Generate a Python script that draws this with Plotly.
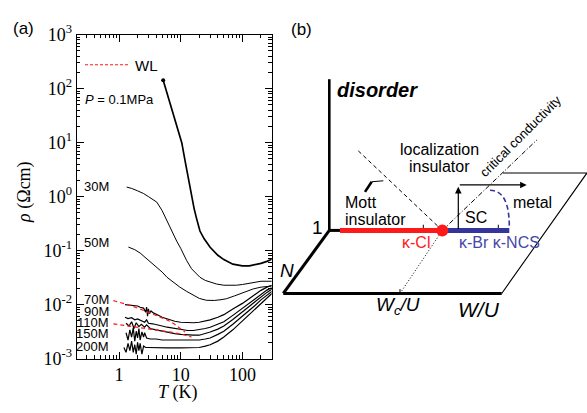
import numpy as np
import plotly.graph_objects as go

W, H = 587, 413

# ---------------- Panel (a) data : resistivity vs temperature ----------------
T_01 = [5.2, 6.0, 7.0, 8.5, 10.4, 12.0, 13.5, 15.0, 16.5, 18.0, 20.5, 24, 30, 40, 50, 70, 100, 130, 170, 200, 250, 300]
R_01 = [144, 83, 46, 22, 10, 4.1, 1.95, 1.0, 0.6, 0.4, 0.23, 0.165, 0.115, 0.082, 0.068, 0.056, 0.052, 0.052, 0.055, 0.058, 0.063, 0.069]

T_30 = [1.33, 1.6, 2.0, 2.5, 3.0, 3.5, 4.1, 5.0, 5.9, 7.0, 8.6, 10, 12.5, 15, 18, 20.5, 25, 30, 38, 50, 62, 80, 100, 130, 160, 200, 250, 300]
R_30 = [1.5, 1.42, 1.28, 1.14, 1.0, 0.9, 0.79, 0.55, 0.37, 0.24, 0.15, 0.11, 0.065, 0.046, 0.037, 0.032, 0.028, 0.026, 0.024, 0.0228, 0.0225, 0.0228, 0.0235, 0.025, 0.026, 0.027, 0.027, 0.027]

T_50 = [1.42, 1.8, 2.2, 2.7, 3.2, 4.0, 5.0, 6.0, 7.5, 9.7, 12.5, 16, 20, 26, 35, 45, 55, 75, 103, 150, 200, 300]
R_50 = [0.116, 0.104, 0.090, 0.074, 0.063, 0.050, 0.040, 0.032, 0.026, 0.021, 0.0175, 0.0148, 0.013, 0.0120, 0.0119, 0.0123, 0.0128, 0.0145, 0.0168, 0.0195, 0.021, 0.022]

T_70 = [1.25, 1.4, 1.6, 1.8, 2.0, 2.2, 2.5, 2.7, 2.8, 2.9, 3.0, 3.1, 3.3, 3.6, 4.0, 4.5, 5.0, 6.0, 7.0, 8.0, 10, 13, 16, 20, 25, 30, 40, 50, 70, 100, 130, 160, 200, 250, 300]
R_70 = [0.0100, 0.0098, 0.0097, 0.0093, 0.0094, 0.0089, 0.0086, 0.0072, 0.0090, 0.0061, 0.0083, 0.0068, 0.0076, 0.0070, 0.0067, 0.0062, 0.0058, 0.0054, 0.0051, 0.0049, 0.0047, 0.0046, 0.0046, 0.0047, 0.0049, 0.0052, 0.0058, 0.0065, 0.0083, 0.0105, 0.0130, 0.0155, 0.0183, 0.0210, 0.0228]

T_90 = [1.25, 1.4, 1.6, 1.8, 2.0, 2.3, 2.6, 2.8, 3.0, 3.5, 4.0, 5.0, 6.0, 8.0, 10, 13, 16, 20, 25, 30, 40, 50, 70, 100, 130, 160, 200, 250, 300]
R_90 = [0.0058, 0.0055, 0.0057, 0.0052, 0.0054, 0.0050, 0.0047, 0.0052, 0.0045, 0.0044, 0.0042, 0.0040, 0.0038, 0.0036, 0.0034, 0.0033, 0.0033, 0.0034, 0.0036, 0.0038, 0.0043, 0.0048, 0.0063, 0.0085, 0.0108, 0.0130, 0.0158, 0.0185, 0.0205]

T_110 = [1.3, 1.45, 1.6, 1.75, 1.9, 2.1, 2.3, 2.6, 2.8, 3.2, 4.0, 5.0, 6.5, 8.0, 10, 13, 16, 20, 25, 30, 40, 50, 70, 100, 130, 160, 200, 250, 300]
R_110 = [0.0045, 0.0040, 0.0048, 0.0036, 0.0046, 0.0039, 0.0043, 0.0038, 0.0042, 0.0036, 0.0034, 0.0032, 0.0030, 0.0029, 0.0028, 0.0027, 0.0027, 0.0027, 0.0029, 0.0031, 0.0035, 0.0040, 0.0053, 0.0072, 0.0093, 0.0113, 0.0140, 0.0168, 0.0192]

T_150 = [1.3, 1.4, 1.5, 1.6, 1.7, 1.8, 1.9, 2.0, 2.1, 2.2, 2.35, 2.5, 2.6, 2.8, 3.2, 4.0, 5.0, 7.0, 10, 14, 20, 25, 30, 40, 50, 70, 100, 130, 160, 200, 250, 300]
R_150 = [0.0030, 0.0022, 0.0034, 0.0025, 0.0037, 0.0021, 0.0032, 0.0024, 0.0036, 0.0022, 0.0031, 0.0025, 0.0030, 0.0024, 0.0023, 0.0023, 0.0022, 0.0022, 0.0022, 0.0022, 0.0022, 0.0023, 0.0024, 0.0028, 0.0032, 0.0043, 0.0060, 0.0078, 0.0096, 0.0122, 0.0150, 0.0175]

T_200 = [1.2, 1.3, 1.4, 1.5, 1.6, 1.7, 1.8, 1.9, 2.0, 2.1, 2.2, 2.35, 2.5, 2.7, 3.0, 4.0, 6.0, 10, 15, 20, 25, 30, 40, 50, 70, 100, 130, 160, 200, 250, 300]
R_200 = [0.0016, 0.0013, 0.0019, 0.0014, 0.0021, 0.0013, 0.0018, 0.0012, 0.0020, 0.0014, 0.0019, 0.0012, 0.0017, 0.0016, 0.0016, 0.00158, 0.00158, 0.00158, 0.0016, 0.0016, 0.0017, 0.0018, 0.0021, 0.0025, 0.0034, 0.0050, 0.0066, 0.0083, 0.0107, 0.0135, 0.0160]

# weak-localization fits (red dashed)
T_WL70 = [0.81, 1.5, 2.5, 4.0, 6.0, 8.0, 10.0, 11.7]
R_WL70 = [0.0118, 0.0097, 0.0078, 0.0063, 0.0052, 0.0043, 0.0036, 0.0031]
T_WL110 = [0.81, 2.0, 4.0, 8.0, 12.0, 15.0]
R_WL110 = [0.0044, 0.0038, 0.0034, 0.0030, 0.0027, 0.0025]

curve_labels = ["30M", "50M", "70M", "90M", "110M", "150M", "200M"]
label_rho = [1.56, 0.142, 0.0122, 0.0073, 0.0046, 0.00286, 0.00167]

y_tickvals = [1e-3, 1e-2, 1e-1, 1e0, 1e1, 1e2, 1e3]
y_ticktext = ["10<sup>-3</sup>", "10<sup>-2</sup>", "10<sup>-1</sup>", "10<sup>0</sup>",
              "10<sup>1</sup>", "10<sup>2</sup>", "10<sup>3</sup>"]
x_tickvals = [1, 10, 100]
x_ticktext = ["1", "10", "100"]

# ---------------- Panel (b) schematic geometry (diagram units) ----------------
disorder_axis = ([0, 0], [0, 159.7])
n_axis = ([0, -46], [0, -66.6])
base_edge = ([-46, 172.4], [-66.6, -66.6])
plane_edge = ([173.7, 257.7, 172.4], [60.7, 60.7, -66.6])
corner_stub = ([0, 10.7], [0, 0])
mott_line = ([10.7, 113], [0, 0])
metal_line = ([113, 180], [0, 0])
critical_pt = ([113], [0])
crit_upper = ([113, 207.7], [0, 95.7])
crit_lower = ([70.7, 113], [-66.6, 0])
loc_line = ([29, 113], [84, 0])
pointer_thick = ([35.7, 42.4], [40.7, 51.4])
pointer_thin = ([42.4, 54], [51.4, 52.4])
ticks_b = [([94, 94], [0, 6]), ([169, 169], [0, 6]), ([70.7, 70.7], [-66.6, -62])]

RED = "#ff1a1a"
BLUE = "#34349a"
BLUE_T = "#4646a8"

fig = go.Figure()

def add_curve(T, R, width=1.0):
    fig.add_trace(go.Scatter(x=T, y=R, mode="lines", line=dict(color="black", width=width),
                             showlegend=False, hoverinfo="skip", xaxis="x", yaxis="y"))

add_curve(T_01, R_01, 1.7)
fig.add_trace(go.Scatter(x=T_01[:1], y=R_01[:1], mode="markers", marker=dict(color="black", size=4),
                         showlegend=False, xaxis="x", yaxis="y"))
for T, R in [(T_30, R_30), (T_50, R_50)]:
    add_curve(T, R, 1.0)
for T, R in [(T_70, R_70), (T_90, R_90), (T_110, R_110), (T_150, R_150), (T_200, R_200)]:
    add_curve(T, R, 1.2)
for T, R in [(T_WL70, R_WL70), (T_WL110, R_WL110)]:
    fig.add_trace(go.Scatter(x=T, y=R, mode="lines", line=dict(color=RED, width=1.2, dash="4px,3px"),
                             showlegend=False, xaxis="x", yaxis="y"))

# ---------------- Panel (b) traces ----------------
def seg(xy, color="black", width=1.0, dash="solid"):
    fig.add_trace(go.Scatter(x=xy[0], y=xy[1], mode="lines", line=dict(color=color, width=width, dash=dash),
                             showlegend=False, hoverinfo="skip", xaxis="x2", yaxis="y2"))

seg(disorder_axis, width=2.6)
seg(n_axis, width=3)
seg(base_edge, width=3)
seg(plane_edge, width=1.1)
seg(corner_stub, width=3)
seg(loc_line, width=1, dash="4px,3px")
seg(crit_upper, width=1, dash="5px,2px,1px,2px")
seg(crit_lower, width=1, dash="1px,2px")
seg(pointer_thick, width=2.6)
seg(pointer_thin, width=1)
for t in ticks_b:
    seg(t, width=1)
seg(mott_line, color=RED, width=5)
seg(metal_line, color=BLUE, width=5)
fig.add_trace(go.Scatter(x=critical_pt[0], y=critical_pt[1], mode="markers",
                         marker=dict(color=RED, size=12), showlegend=False, xaxis="x2", yaxis="y2"))

fs = "Liberation Sans, Arial, sans-serif"
ser = "Liberation Serif, Times New Roman, serif"

def px2paper(px, py):
    return px / W, 1 - py / H

ann = []
def pann(text, px, py, font, angle=0):
    x, y = px2paper(px, py)
    ann.append(dict(text=text, x=x, y=y, xref="paper", yref="paper", showarrow=False,
                    xanchor="center", yanchor="middle", textangle=angle, font=font))

pann("(a)", 23, 17.5, dict(family=fs, size=17, color="black"))
pann("(b)", 301, 19, dict(family=fs, size=17, color="black"))
pann("<i>ρ</i> (Ωcm)", 25, 190, dict(family=ser, size=18, color="black"), angle=-90)
pann("<i>T</i> (K)", 178, 402, dict(family=ser, size=18, color="black"))

# curve labels
for lab, r in zip(curve_labels, label_rho):
    ann.append(dict(text=lab, x=np.log10(0.74), y=np.log10(r), xref="x", yref="y", xanchor="right",
                    yanchor="middle", showarrow=False, font=dict(family=fs, size=13, color="black")))
ann.append(dict(text="<i>P</i> = 0.1MPa", x=np.log10(0.26), y=np.log10(63), xref="x", yref="y",
                xanchor="left", yanchor="middle", showarrow=False, font=dict(family=fs, size=13, color="black")))
ann.append(dict(text="WL", x=np.log10(1.7), y=np.log10(267), xref="x", yref="y",
                xanchor="left", yanchor="middle", showarrow=False, font=dict(family=fs, size=15, color="black")))

# panel (b) texts in diagram units
def tb(text, x, y, size=16, color="black", xanchor="center", italic=False, bold=False, angle=0):
    t = text
    if bold:
        t = "<b>" + t + "</b>"
    if italic:
        t = "<i>" + t + "</i>"
    ann.append(dict(text=t, x=x, y=y, xref="x2", yref="y2", showarrow=False, xanchor=xanchor,
                    yanchor="middle", textangle=angle, font=dict(family=fs, size=size, color=color)))

tb("disorder", 5.7, 148.7, size=20, italic=True, bold=True, xanchor="left")
tb("localization", 109.7, 85.7)
tb("insulator", 109.7, 67.7)
tb("Mott", 14, 29.7, xanchor="left")
tb("insulator", 14, 11.7, xanchor="left")
tb("SC", 134, 13.2, xanchor="left")
tb("metal", 182, 29.7, xanchor="left")
tb("1", -4.3, 2.7, size=19, xanchor="right")
tb("κ-Cl", 86.5, -12.3, color=RED)
tb("κ-Br κ-NCS", 127.4, -12.6, color=BLUE_T, xanchor="left")
tb("N", -42.3, -42.6, size=19, italic=True)
tb("W<sub>c</sub>/U", 68.7, -79.5, size=19, italic=True)
tb("W/U", 149.7, -84, size=21, italic=True)
tb("critical conductivity", 190.7, 99.7, size=13, angle=-45)

# arrows
for (x0, y0, x1, y1) in [(129, 0, 129, 46), (129, 48, 197.4, 48)]:
    ann.append(dict(text="", x=x1, y=y1, ax=x0, ay=y0, xref="x2", yref="y2", axref="x2", ayref="y2",
                    showarrow=True, arrowhead=2, arrowsize=1.1, arrowwidth=1.2, arrowcolor="black"))

shapes = []
# WL legend sample
shapes.append(dict(type="line", xref="paper", yref="paper", x0=85 / W, x1=128 / W,
                   y0=1 - 55.7 / H, y1=1 - 55.7 / H, line=dict(color=RED, width=1.1, dash="3px,2px")))
# SC dome (blue dashed)
shapes.append(dict(type="path", xref="x2", yref="y2", path="M 160.7,42.4 Q 180,42.4 180,4",
                   line=dict(color=BLUE, width=1.6, dash="5px,3px")))

xr_a = [-0.686, 2.475]
axis_common = dict(showline=True, linecolor="black", linewidth=1, mirror="ticks", ticks="inside",
                   ticklen=7, tickwidth=1, tickcolor="black", showgrid=False, zeroline=False)

fig.update_layout(
    width=W, height=H, margin=dict(l=0, r=0, t=0, b=0),
    paper_bgcolor="white", plot_bgcolor="white", showlegend=False,
    xaxis=dict(type="log", domain=[76.7 / W, 271.7 / W], range=xr_a, anchor="y",
               tickmode="array", tickvals=x_tickvals, ticktext=x_ticktext,
               tickfont=dict(family=ser, size=18, color="black"),
               minor=dict(ticks="inside", ticklen=3.5, tickcolor="black", dtick="D1", showgrid=False),
               **axis_common),
    yaxis=dict(type="log", domain=[1 - 366 / H, 1 - 24 / H], range=[-3, 3], anchor="x",
               tickmode="array", tickvals=y_tickvals, ticktext=y_ticktext,
               tickfont=dict(family=ser, size=18, color="black"),
               minor=dict(ticks="inside", ticklen=3.5, tickcolor="black", dtick="D1", showgrid=False),
               **axis_common),
    xaxis2=dict(domain=[0.47, 1.0], range=[0.47 * W - 329.3, W - 329.3], visible=False, anchor="y2"),
    yaxis2=dict(domain=[0, 1], range=[230.7 - H, 230.7], visible=False, anchor="x2"),
    annotations=ann, shapes=shapes,
)

fig.write_html("out.html")
